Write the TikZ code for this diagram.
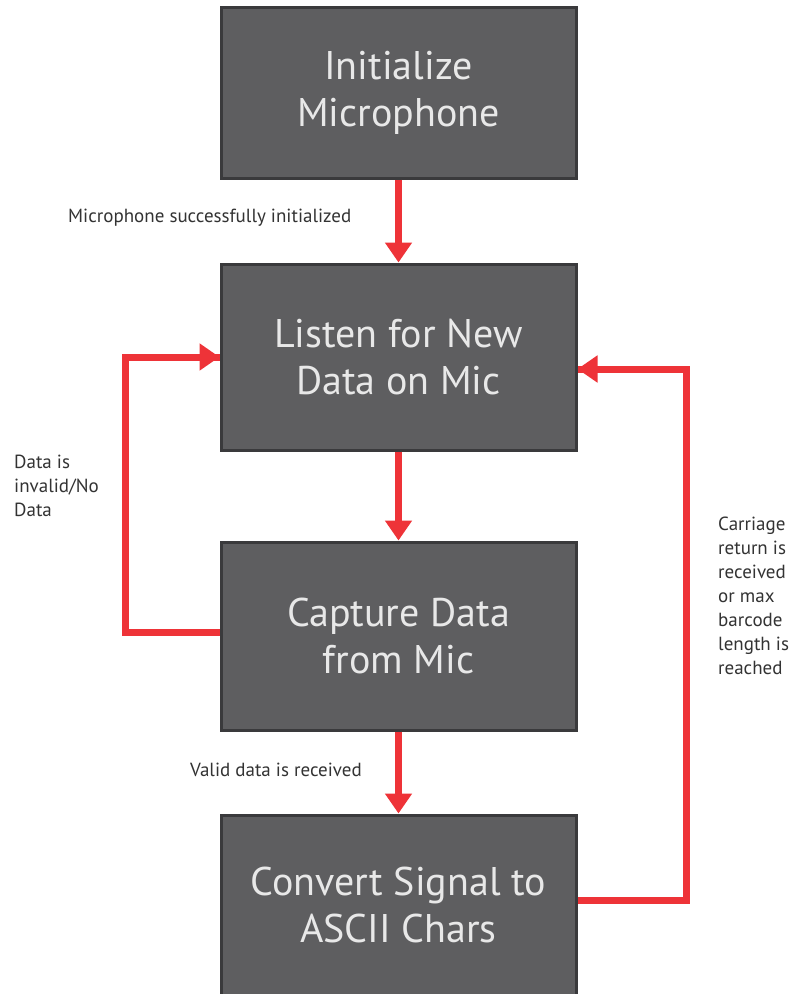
\documentclass[tikz,border=0pt]{standalone}
\usepackage{fontspec}
\setmainfont{PT Sans}
\usetikzlibrary{arrows.meta}
\definecolor{boxfill}{HTML}{5E5E60}
\definecolor{boxline}{HTML}{3A3A3C}
\definecolor{boxtext}{HTML}{E8E8E8}
\definecolor{flow}{HTML}{EE3338}
\definecolor{lbl}{HTML}{333333}
\tikzset{
  stepbox/.style={draw=boxline, fill=boxfill, line width=3pt, minimum width=355pt,
    inner sep=0pt, align=center, text=boxtext,
    font=\fontsize{40}{47}\selectfont},
  flowline/.style={draw=flow, line width=7pt},
  flowarrow/.style={flowline, -{Triangle[width=26pt,length=20pt]}},
  lab/.style={text=lbl, font=\fontsize{19}{24}\selectfont, inner sep=0pt, align=left}
}
\begin{document}
\begin{tikzpicture}[x=1pt,y=-1pt]
\useasboundingbox[fill=white] (0,0) rectangle (793,994);
\clip (0,0) rectangle (793,994);
\node[stepbox, minimum height=171pt] (b1) at (398.5,92.5) {Initialize\\Microphone};
\node[stepbox, minimum height=186pt] (b2) at (398.5,357) {Listen for New\\Data on Mic};
\node[stepbox, minimum height=188pt] (b3) at (398.5,636) {Capture Data\\from Mic};
\node[stepbox, minimum height=180pt] (b4) at (398.5,905) {Convert Signal to\\ASCII Chars};
\draw[flowarrow] (b1.south) -- (b2.north);
\draw[flowarrow] (b2.south) -- (b3.north);
\draw[flowarrow] (b3.south) -- (b4.north);
\coordinate (la) at (125,632);
\coordinate (lb) at (125,357);
\draw[flowline] (b3.west |- la) -- (la) -- (lb) -- (b2.west |- lb);
\draw[flowarrow] (lb) -- (b2.west |- lb);
\coordinate (ra) at (686,900);
\coordinate (rb) at (686,369);
\draw[flowline] (b4.east |- ra) -- (ra) -- (rb) -- (b2.east |- rb);
\draw[flowarrow] (rb) -- (b2.east |- rb);
\node[lab, anchor=base west] (t1) at (68,222) {Microphone successfully initialized};
\node[lab, anchor=base west] (t2) at (190,776) {Valid data is received};
\node[lab, anchor=north west] (t3) at (14,455) {Data is\\invalid/No\\Data};
\node[lab, anchor=north west] (t4) at (718,517) {Carriage\\return is\\received\\or max\\barcode\\length is\\reached};
\end{tikzpicture}
\end{document}
